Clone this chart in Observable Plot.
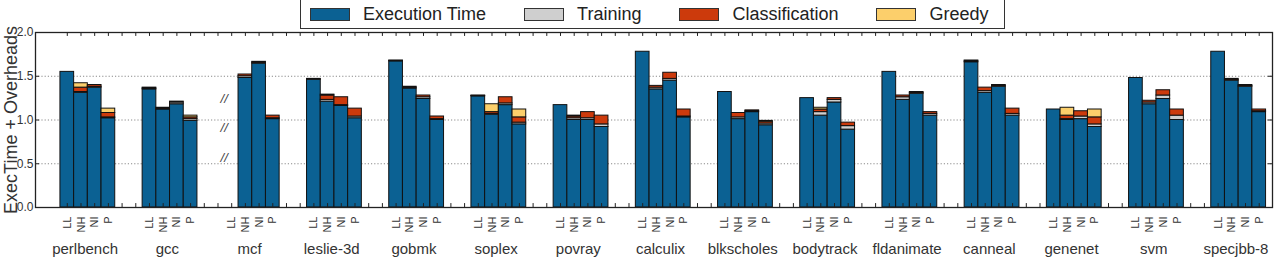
<!DOCTYPE html>
<html>
<head>
<meta charset="utf-8">
<script src="https://cdn.jsdelivr.net/npm/d3@7"></script>
<script src="https://cdn.jsdelivr.net/npm/@observablehq/plot@0.6"></script>
<style>
  body { margin: 0; background: #fff; font-family: "Liberation Sans", Arial, sans-serif; }
  #legend { position: relative; width: 1281px; height: 30px; }
  #legend .box {
    position: absolute; left: 300px; top: -2px; width: 705px; height: 31px;
    border: 1px solid #333; box-sizing: border-box; background: #fff;
    display: flex; align-items: center; gap: 38px; padding: 2px 0 0 9px;
  }
  #legend .item { display: flex; align-items: center; font-size: 18px; color: #222; }
  #legend .sw { width: 40px; height: 13px; border: 1px solid #333; box-sizing: border-box; margin-right: 13px; }
</style>
</head>
<body>
<div id="legend"><div class="box"></div></div>
<div id="chart"></div>
<script>
// Benchmarks, the four configurations run for each, and the stacked components
const benchmarks = ["perlbench", "gcc", "mcf", "leslie-3d", "gobmk", "soplex", "povray",
  "calculix", "blkscholes", "bodytrack", "fldanimate", "canneal", "genenet", "svm", "specjbb-8"];
const configs = ["LL", "NH", "NI", "P"];
const components = ["Execution Time", "Training", "Classification", "Greedy"];
const componentColors = ["#0b6193", "#cfcfcf", "#cc3a0c", "#fccf6b"];

// Normalized execution time per benchmark: [LL, NH, NI, P] (mcf has no LL run)
const execTime = [
  [1.55, 1.31, 1.37, 1.02],
  [1.35, 1.12, 1.18, 0.99],
  [null, 1.48, 1.645, 1.01],
  [1.46, 1.21, 1.16, 1.02],
  [1.67, 1.36, 1.24, 1.00],
  [1.27, 1.06, 1.17, 0.95],
  [1.17, 1.00, 1.00, 0.92],
  [1.78, 1.35, 1.45, 1.03],
  [1.32, 1.01, 1.09, 0.94],
  [1.25, 1.05, 1.20, 0.89],
  [1.55, 1.23, 1.30, 1.05],
  [1.66, 1.31, 1.38, 1.05],
  [1.12, 1.00, 1.01, 0.92],
  [1.48, 1.18, 1.24, 1.00],
  [1.78, 1.45, 1.38, 1.09]
];
const training = [
  [0, 0.01, 0.01, 0.01],
  [0.01, 0.01, 0.02, 0.02],
  [null, 0.02, 0.01, 0.01],
  [0.005, 0.02, 0.01, 0.02],
  [0.005, 0.01, 0.02, 0.01],
  [0.005, 0.01, 0.02, 0.02],
  [0, 0.02, 0.02, 0.03],
  [0, 0.02, 0.02, 0.01],
  [0, 0.02, 0.01, 0.02],
  [0, 0.04, 0.03, 0.04],
  [0, 0.03, 0.01, 0.02],
  [0.01, 0.02, 0.01, 0.02],
  [0, 0.01, 0.03, 0.03],
  [0, 0.02, 0.04, 0.05],
  [0, 0.01, 0.01, 0.01]
];
const classification = [
  [0, 0.05, 0.02, 0.05],
  [0.01, 0.01, 0.01, 0.02],
  [null, 0.02, 0.01, 0.03],
  [0.005, 0.05, 0.09, 0.09],
  [0.005, 0.01, 0.02, 0.03],
  [0.005, 0.02, 0.07, 0.06],
  [0, 0.02, 0.07, 0.10],
  [0, 0.02, 0.07, 0.08],
  [0, 0.05, 0.01, 0.02],
  [0, 0.03, 0.02, 0.04],
  [0, 0.02, 0.01, 0.02],
  [0.01, 0.04, 0.01, 0.06],
  [0, 0.04, 0.06, 0.08],
  [0, 0.02, 0.06, 0.07],
  [0, 0.01, 0.01, 0.02]
];
const greedy = [
  [0, 0.05, 0, 0.05],
  [0, 0, 0, 0.02],
  [null, 0, 0, 0],
  [0, 0.01, 0, 0],
  [0, 0, 0, 0],
  [0, 0.09, 0, 0.09],
  [0, 0.01, 0, 0],
  [0, 0, 0, 0],
  [0, 0, 0, 0.01],
  [0, 0.02, 0, 0],
  [0, 0, 0, 0],
  [0, 0, 0, 0],
  [0, 0.09, 0, 0.09],
  [0, 0, 0, 0],
  [0, 0, 0, 0]
];
const yTicks = [0, 0.5, 1.0, 1.5, 2.0];
const breakMarks = [1.24, 0.91, 0.57];   // "//" markers where mcf's LL run is missing

// Each benchmark takes six bar slots: four bars and a two-slot gap
const SLOTS = 6;
const series = [execTime, training, classification, greedy];
const xDomain = [-1.82, (benchmarks.length - 1) * SLOTS + configs.length + 0.47];

const segments = [];
const barLabels = [];
benchmarks.forEach((b, g) => configs.forEach((c, j) => {
  const pos = g * SLOTS + j;
  barLabels.push({pos, config: c});
  let base = 0;
  series.forEach((s, k) => {
    const v = s[g][j];
    if (v == null || v <= 0) return;
    segments.push({benchmark: b, config: c, component: components[k],
      x1: pos, x2: pos + 1, y1: base, y2: base + v});
    base += v;
  });
}));
const slotCenters = d3.range(0, (benchmarks.length - 1) * SLOTS + configs.length).map(k => k + 0.5);

// Legend
const box = document.querySelector("#legend .box");
components.forEach((name, k) => {
  const item = document.createElement("div");
  item.className = "item";
  const sw = document.createElement("span");
  sw.className = "sw";
  sw.style.background = componentColors[k];
  item.appendChild(sw);
  item.appendChild(document.createTextNode(name));
  box.appendChild(item);
});

const chart = Plot.plot({
  width: 1281,
  height: 233,
  marginLeft: 35,
  marginRight: 9,
  marginTop: 2,
  marginBottom: 56,
  style: {fontFamily: '"Liberation Sans", Arial, sans-serif', overflow: "visible", background: "#fff"},
  x: {domain: xDomain, axis: null},
  y: {domain: [0, 2], axis: null},
  color: {domain: components, range: componentColors},
  marks: [
    Plot.ruleY(yTicks.slice(1, -1), {stroke: "#8a8a8a", strokeWidth: 1, strokeDasharray: "1.2,2"}),
    Plot.rect(segments, {x1: "x1", x2: "x2", y1: "y1", y2: "y2", fill: "component",
      stroke: "#111", strokeWidth: 1}),
    // inward tick marks on all four sides
    Plot.ruleX(slotCenters, {y1: 0, y2: 0.045, stroke: "#222"}),
    Plot.ruleX(slotCenters, {y1: 1.955, y2: 2, stroke: "#222"}),
    Plot.ruleY(yTicks, {x1: xDomain[0], x2: xDomain[0] + 0.3, stroke: "#222"}),
    Plot.ruleY(yTicks, {x1: xDomain[1] - 0.3, x2: xDomain[1], stroke: "#222"}),
    Plot.frame({stroke: "#222", strokeWidth: 1.3}),
    Plot.text(yTicks, {x: xDomain[0], y: d => d, text: d => d.toFixed(1), textAnchor: "end",
      dx: -2, fontSize: 12, fill: "#333"}),
    Plot.text(["ExecTime + Overheads"], {frameAnchor: "left", textAnchor: "middle", rotate: -90,
      dx: -24, fontSize: 18, fill: "#333"}),
    Plot.text(barLabels, {x: d => d.pos + 0.5, y: 0, text: "config", rotate: -90,
      textAnchor: "end", dy: 9, fontSize: 11, fill: "#333"}),
    Plot.text(benchmarks, {x: (d, i) => i * SLOTS + 1.8, y: 0, text: d => d, dy: 42,
      fontSize: 15, fill: "#333"}),
    Plot.text(breakMarks, {x: 2 * SLOTS - 0.05, y: d => d, text: () => "//", fontStyle: "italic",
      fontSize: 13, fill: "#444"})
  ]
});
document.getElementById("chart").appendChild(chart);
</script>
</body>
</html>
